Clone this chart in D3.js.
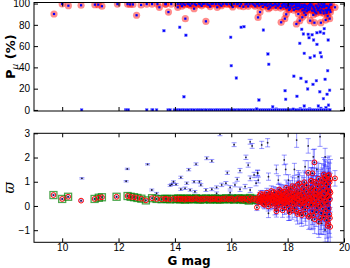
<!DOCTYPE html>
<html>
<head>
<meta charset="utf-8">
<script src="https://cdn.jsdelivr.net/npm/d3@7"></script>
<style>
  body { margin: 0; background: #fff; }
  svg { display: block; font-family: "DejaVu Sans", sans-serif; }
</style>
</head>
<body>
<svg width="350" height="268"></svg>
<script>
// ---- data ----
// top panel: membership probability (%) vs G
const topMembers = [
  [9.71, 90.2], [10.0, 99.6], [10.22, 98.0], [10.67, 98.4], [11.16, 99.0], [11.28, 99.0], [11.41, 97.5],
  [11.96, 99.5], [12.32, 99.5], [12.41, 99.2], [12.51, 99.2], [12.64, 89.0], [12.8, 98.7], [13.0, 99.5],
  [13.19, 99.5], [13.38, 99.5], [13.45, 96.5], [13.66, 99.5], [13.68, 99.5], [13.77, 92.0], [13.87, 99.5],
  [14.1, 99.5], [14.1, 96.5], [14.37, 85.8], [14.68, 95.2], [15.1, 83.3], [15.5, 96.5], [16.43, 97.0],
  [16.95, 87.0], [17.02, 92.0], [17.32, 95.2], [17.77, 82.4], [17.9, 85.8], [17.95, 89.9], [18.05, 94.0],
  [18.31, 80.8], [18.38, 90.2], [18.43, 83.9], [18.52, 87.1], [18.59, 91.4], [18.8, 83.9], [18.95, 82.0],
  [19.02, 90.8], [19.18, 82.0], [19.35, 84.5], [19.49, 85.8], [19.68, 96.5], [18.73, 94.0], [19.09, 94.0],
  [19.28, 90.8], [19.42, 88.3], [19.37, 93.3], [18.91, 89.3], [18.64, 89.3],
  [14.2, 99.6], [14.3, 99.8], [14.35, 98.9], [14.45, 99.7], [14.5, 99.2], [14.6, 99.9], [14.7, 99.5],
  [14.75, 98.6], [14.85, 99.8], [14.9, 99.3], [15.0, 99.7], [15.05, 99.9], [15.15, 99.4], [15.2, 98.8],
  [15.3, 99.7], [15.35, 99.9], [15.45, 99.5], [15.55, 99.8], [15.6, 99.1], [15.7, 99.6], [15.8, 99.9],
  [15.85, 99.3], [15.95, 99.7], [16.0, 98.7], [16.1, 99.8], [16.2, 99.4], [16.25, 99.9], [16.35, 99.6],
  [16.5, 99.2], [16.55, 99.8], [16.65, 99.5], [16.75, 99.9], [16.8, 98.9], [16.9, 99.6], [16.95, 99.8],
  [17.05, 99.3], [17.1, 99.7], [17.2, 98.5], [17.25, 99.9], [17.35, 99.1], [17.4, 99.6], [17.45, 98.2],
  [17.55, 99.8], [17.6, 99.0], [17.65, 97.9], [17.7, 99.5], [17.8, 98.7], [17.85, 99.7], [17.9, 97.4],
  [17.95, 99.2], [18.0, 98.4], [18.05, 99.6], [18.1, 97.1], [18.15, 98.9], [18.2, 99.5], [18.25, 96.8],
  [18.3, 98.2], [18.35, 99.3], [18.4, 97.6], [18.45, 95.9], [18.5, 98.8], [18.55, 96.7], [18.6, 99.1],
  [18.65, 97.9], [18.7, 95.4], [18.75, 98.5], [18.8, 96.3], [18.85, 99.0], [18.9, 97.2], [18.95, 94.8],
  [19.0, 98.1], [19.05, 96.0], [19.1, 99.2], [19.15, 97.5], [19.2, 94.3], [19.25, 98.4], [19.3, 96.6],
  [19.35, 93.9], [19.4, 97.8], [19.45, 95.5], [19.5, 98.9], [19.15, 92.8], [18.95, 93.1], [19.4, 92.5],
  [19.3, 99.5], [18.6, 94.2], [18.3, 95.1], [17.95, 96.1], [19.5, 94.0], [19.2, 99.7], [18.8, 99.6],
  [16.85, 97.5], [16.98, 98.2], [17.12, 96.9], [17.18, 99.2], [17.28, 97.8], [17.38, 96.4], [17.5, 98.6],
  [17.58, 96.2], [17.68, 98.9], [17.75, 95.8], [17.82, 97.1], [17.88, 99.6], [18.02, 96.7], [18.08, 95.1],
  [18.12, 99.8], [18.18, 96.2], [18.22, 93.9], [18.28, 99.7], [18.33, 97.4], [18.38, 94.7], [18.42, 99.4],
  [18.48, 96.9], [18.53, 93.6], [18.58, 98.3], [18.62, 95.8], [18.68, 92.9], [18.72, 97.2], [18.78, 94.6],
  [18.82, 98.1], [18.87, 93.4], [18.92, 96.1], [18.98, 91.9], [19.03, 97.4], [19.07, 93.7], [19.12, 95.9],
  [19.17, 91.4], [19.22, 96.8], [19.27, 93.2], [19.32, 97.9], [19.38, 91.2], [19.43, 94.1], [19.47, 96.9],
  [19.52, 92.1], [19.55, 99.1], [14.25, 97.6], [14.55, 98.1], [14.95, 97.9], [15.25, 97.2], [15.65, 98.0],
  [16.05, 96.8], [16.3, 97.7], [16.6, 97.4]
]
const topOthers = [
  [13.61, 74.5], [14.17, 77.7], [14.39, 70.2], [15.98, 68.3], [16.35, 77.7], [16.45, 78.3], [17.14, 75.1],
  [17.3, 52.6], [16.0, 41.6], [17.33, 42.9], [16.18, 30.0], [14.32, 12.4], [16.98, 9.3], [18.22, 31.7],
  [18.47, 29.7], [18.66, 26.5], [18.9, 24.0], [19.02, 27.5], [19.33, 28.8], [19.42, 36.9], [18.71, 19.7],
  [17.91, 18.1], [17.93, 10.0], [18.33, 12.8], [19.14, 17.1], [19.49, 18.5], [19.27, 10.6], [19.4, 14.7],
  [17.47, 3.0], [18.59, 3.7], [19.09, 3.7], [18.43, 62.6], [18.59, 53.2], [18.8, 49.1], [18.95, 50.7],
  [19.16, 53.8], [19.2, 50.0], [19.04, 61.6], [18.56, 71.4], [18.73, 71.1], [18.87, 70.7], [19.04, 72.6],
  [19.16, 73.3], [19.28, 72.0], [18.76, 67.9], [18.92, 65.7], [18.5, 75.8], [19.3, 76.4], [19.44, 65.7],
  [19.36, 2.2], [19.18, 1.5], [18.78, 1.0], [18.45, 1.2], [17.6, 0.8], [19.45, 4.5],
  [10.69, 0], [12.25, 0], [12.3, 0], [12.35, 0], [13.0, 0], [13.19, 0], [13.21, 0], [13.35, 0], [13.76, 0],
  [13.83, 0], [13.98, 0], [14.05, 0], [14.12, 0], [14.18, 0], [14.26, 0], [14.31, 0], [14.4, 0], [14.47, 0],
  [14.55, 0], [14.6, 0], [14.68, 0], [14.77, 0], [14.83, 0], [14.9, 0], [14.97, 0], [15.05, 0], [15.11, 0],
  [15.2, 0], [15.26, 0], [15.33, 0], [15.42, 0], [15.48, 0], [15.55, 0], [15.63, 0], [15.7, 0], [15.77, 0],
  [15.85, 0], [15.91, 0], [16.0, 0], [16.06, 0], [16.14, 0], [16.22, 0], [16.28, 0], [16.36, 0], [16.43, 0],
  [16.5, 0], [16.58, 0], [16.65, 0], [16.71, 0], [16.8, 0], [16.87, 0], [16.93, 0], [17.01, 0], [17.08, 0],
  [17.15, 0], [17.22, 0], [17.3, 0], [17.36, 0], [17.44, 0], [17.51, 0], [17.57, 0], [17.66, 0], [17.72, 0],
  [17.8, 0], [17.87, 0], [17.94, 0], [18.02, 0], [18.09, 0], [18.16, 0], [18.23, 0], [18.3, 0], [18.38, 0],
  [18.45, 0], [18.51, 0], [18.6, 0], [18.67, 0], [18.74, 0], [18.81, 0], [18.88, 0], [18.95, 0], [19.03, 0],
  [19.1, 0], [19.17, 0], [19.24, 0], [19.31, 0], [19.38, 0], [19.45, 0], [19.5, 0], [16.9, 0.9], [18.2, 0.7]
]

// bottom panel: parallax vs G, [G, parallax, error]
const plxBright = [
  [9.69, 0.45, 0.03], [10.0, 0.29, 0.03], [10.21, 0.38, 0.03], [11.15, 0.29, 0.03], [11.3, 0.34, 0.03],
  [11.41, 0.36, 0.03], [11.93, 0.38, 0.03], [12.32, 0.41, 0.03], [12.43, 0.38, 0.03], [12.55, 0.36, 0.03],
  [12.67, 0.33, 0.03], [12.81, 0.30, 0.03], [12.97, 0.23, 0.03], [13.19, 0.32, 0.04], [13.35, 0.29, 0.04],
  [13.53, 0.28, 0.04], [13.65, 0.30, 0.04], [13.71, 0.29, 0.04], [13.83, 0.27, 0.04], [13.95, 0.30, 0.04],
  [14.05, 0.28, 0.04], [14.12, 0.31, 0.04], [14.18, 0.27, 0.04], [14.22, 0.30, 0.04], [14.3, 0.29, 0.05],
  [14.35, 0.26, 0.05], [14.42, 0.31, 0.05], [14.48, 0.28, 0.05], [14.55, 0.30, 0.05], [14.6, 0.27, 0.05],
  [14.68, 0.29, 0.05], [14.75, 0.32, 0.05], [14.82, 0.28, 0.05], [14.89, 0.26, 0.06], [14.95, 0.30, 0.06],
  [15.02, 0.27, 0.06], [15.1, 0.31, 0.06], [15.19, 0.29, 0.06], [15.25, 0.26, 0.06], [15.3, 0.30, 0.06],
  [15.36, 0.28, 0.07], [15.42, 0.31, 0.07], [15.5, 0.27, 0.07], [15.55, 0.29, 0.07], [15.6, 0.26, 0.07],
  [15.68, 0.30, 0.07], [15.75, 0.28, 0.08], [15.82, 0.32, 0.08], [15.9, 0.27, 0.08], [15.96, 0.29, 0.08],
  [16.02, 0.31, 0.08], [16.1, 0.26, 0.09], [16.19, 0.29, 0.09], [16.25, 0.32, 0.09], [16.32, 0.27, 0.09],
  [16.38, 0.30, 0.1], [16.43, 0.25, 0.1], [16.5, 0.31, 0.1], [16.56, 0.28, 0.1], [16.62, 0.22, 0.11],
  [16.67, 0.33, 0.11], [16.73, 0.26, 0.11], [16.8, 0.30, 0.12], [16.88, 0.24, 0.12]
]
const plxFaint = [
  [10.67, 0.22, 0.03],
  [16.92, 0.30, 0.12], [16.97, 0.18, 0.13], [17.0, 0.42, 0.14], [17.03, 0.26, 0.13], [17.06, 0.35, 0.15],
  [17.1, 0.12, 0.15], [17.12, 0.48, 0.16], [17.15, 0.28, 0.15], [17.18, 0.05, 0.17], [17.2, 0.38, 0.16],
  [17.23, 0.22, 0.17], [17.26, 0.55, 0.18], [17.28, 0.31, 0.17], [17.31, -0.02, 0.19], [17.34, 0.44, 0.18],
  [17.36, 0.19, 0.19], [17.39, 0.36, 0.2], [17.42, 0.62, 0.21], [17.44, 0.27, 0.2], [17.47, 0.1, 0.21],
  [17.5, 0.41, 0.22], [17.52, 0.24, 0.22], [17.55, 0.52, 0.23], [17.57, 0.33, 0.22], [17.6, -0.1, 0.24],
  [17.62, 0.15, 0.23], [17.65, 0.45, 0.25], [17.67, 0.29, 0.24], [17.7, 0.68, 0.26], [17.72, 0.05, 0.26],
  [17.75, 0.38, 0.27], [17.77, 0.21, 0.26], [17.8, 0.55, 0.28], [17.82, -0.18, 0.29], [17.85, 0.31, 0.28],
  [17.87, 0.12, 0.29], [17.9, 0.47, 0.3], [17.92, 0.26, 0.3], [17.95, 0.75, 0.32], [17.97, 0.02, 0.32],
  [18.0, 0.36, 0.33], [18.02, 0.18, 0.33], [18.05, 0.58, 0.34], [18.07, -0.25, 0.35], [18.1, 0.3, 0.35],
  [18.12, 0.44, 0.36], [18.15, 0.09, 0.36], [18.17, 0.82, 0.38], [18.2, 0.25, 0.37], [18.22, 0.51, 0.38],
  [18.25, -0.08, 0.39], [18.27, 0.35, 0.39], [18.3, 0.16, 0.4], [18.32, 0.62, 0.41], [18.35, -0.33, 0.42],
  [18.37, 0.28, 0.41], [18.4, 0.45, 0.42], [18.42, 0.93, 0.44], [18.45, 0.07, 0.43], [18.47, 0.33, 0.44],
  [18.5, -0.38, 0.46], [18.52, 0.55, 0.45], [18.55, 0.2, 0.46], [18.57, 0.71, 0.47], [18.6, 0.38, 0.47],
  [18.62, -0.15, 0.48], [18.65, 0.27, 0.48], [18.67, 0.86, 0.5], [18.7, 0.12, 0.5], [18.72, 0.49, 0.5],
  [18.75, -0.45, 0.52], [18.77, 0.32, 0.51], [18.8, 0.64, 0.53], [18.82, 0.02, 0.53], [18.84, 1.04, 0.55],
  [18.86, 0.41, 0.54], [18.88, -0.22, 0.55], [18.9, 0.24, 0.55], [18.92, 0.77, 0.57], [18.94, 0.15, 0.57],
  [18.96, -0.55, 0.59], [18.98, 0.52, 0.58], [19.0, 0.33, 0.59], [19.02, 0.95, 0.61], [19.04, -0.08, 0.61],
  [19.06, 0.44, 0.62], [19.08, 0.19, 0.62], [19.1, 1.12, 0.64], [19.11, -0.65, 0.65], [19.13, 0.6, 0.64],
  [19.15, 0.28, 0.65], [19.17, 0.85, 0.66], [19.19, -0.3, 0.67], [19.21, 1.07, 0.68], [19.22, 0.38, 0.67],
  [19.24, 0.05, 0.68], [19.26, 0.72, 0.69], [19.28, -0.48, 0.7], [19.3, 0.5, 0.7], [19.31, 1.2, 0.72],
  [19.33, 0.22, 0.71], [19.34, 1.14, 0.72], [19.35, -0.2, 0.72], [19.37, 0.9, 0.73], [19.38, 0.35, 0.73],
  [19.39, -0.58, 0.75], [19.4, 0.65, 0.74], [19.42, 1.25, 0.76], [19.43, 0.12, 0.75], [19.44, -0.72, 0.77],
  [19.45, 0.8, 0.76], [19.46, 0.42, 0.76], [19.47, 1.28, 0.78], [19.48, -0.35, 0.78], [19.49, 0.98, 0.79],
  [19.5, 0.28, 0.79], [19.51, -0.86, 0.8], [19.52, 0.55, 0.8], [19.68, 1.14, 0.32], [18.95, 1.8, 0.55],
  [18.73, 1.37, 0.5], [18.88, 1.35, 0.52], [17.6, -0.22, 0.24], [16.91, -0.06, 0.13], [18.83, 1.04, 0.53],
  [17.08, 0.22, 0.14], [17.33, 0.3, 0.18], [17.58, 0.2, 0.23], [17.83, 0.4, 0.28], [18.08, 0.24, 0.35],
  [18.33, 0.3, 0.4], [18.58, 0.1, 0.47], [18.83, 0.3, 0.54], [19.09, 0.4, 0.63], [19.36, 0.6, 0.73],
  [17.01, 0.2, 0.14], [17.04, 0.5, 0.14], [17.11, 0.33, 0.15], [17.14, 0.08, 0.16], [17.19, 0.27, 0.16],
  [17.22, 0.45, 0.17], [17.27, 0.14, 0.17], [17.3, 0.38, 0.18], [17.35, 0.26, 0.18], [17.38, 0.5, 0.19],
  [17.41, 0.04, 0.2], [17.45, 0.34, 0.2], [17.48, 0.22, 0.21], [17.51, 0.58, 0.22], [17.54, 0.12, 0.22],
  [17.56, 0.4, 0.23], [17.61, 0.31, 0.23], [17.64, 0.02, 0.24], [17.66, 0.52, 0.24], [17.69, 0.18, 0.25],
  [17.71, 0.42, 0.26], [17.74, 0.27, 0.26], [17.76, 0.62, 0.27], [17.79, 0.09, 0.27], [17.81, 0.34, 0.28],
  [17.84, 0.19, 0.28], [17.86, 0.58, 0.29], [17.89, -0.06, 0.29], [17.91, 0.37, 0.3], [17.94, 0.14, 0.31],
  [17.96, 0.52, 0.31], [17.99, 0.25, 0.32], [18.01, 0.66, 0.33], [18.04, -0.12, 0.34], [18.06, 0.4, 0.34],
  [18.09, 0.13, 0.35], [18.11, 0.7, 0.35], [18.14, 0.33, 0.36], [18.16, -0.18, 0.37], [18.19, 0.48, 0.37],
  [18.21, 0.06, 0.38], [18.24, 0.78, 0.38], [18.26, 0.2, 0.39], [18.29, 0.53, 0.4], [18.31, -0.22, 0.4],
  [18.34, 0.4, 0.41], [18.36, 0.88, 0.42], [18.39, 0.1, 0.42], [18.41, 0.6, 0.43], [18.44, -0.28, 0.43],
  [18.46, 0.42, 0.44], [18.49, 0.18, 0.45], [18.51, 0.8, 0.45], [18.54, -0.05, 0.46], [18.56, 0.46, 0.46],
  [18.59, 0.98, 0.47], [18.61, 0.22, 0.48], [18.64, -0.32, 0.48], [18.66, 0.58, 0.49], [18.69, 0.36, 0.49],
  [18.71, -0.02, 0.5], [18.74, 0.74, 0.51], [18.76, 0.18, 0.51], [18.79, -0.4, 0.52], [18.81, 0.5, 0.53],
  [18.85, 0.08, 0.54], [18.87, 0.7, 0.54], [18.89, 0.36, 0.55], [18.91, -0.38, 0.56], [18.93, 1.0, 0.57],
  [18.97, 0.05, 0.58], [18.99, 0.66, 0.59], [19.01, -0.25, 0.6], [19.03, 0.5, 0.6], [19.05, 0.1, 0.61],
  [19.07, 0.82, 0.62], [19.12, 0.0, 0.63], [19.14, 0.46, 0.64], [19.16, -0.5, 0.65], [19.18, 0.68, 0.66],
  [19.2, 0.12, 0.66], [19.23, 0.9, 0.67], [19.25, -0.12, 0.68], [19.27, 0.32, 0.69], [19.29, 1.0, 0.7],
  [19.32, -0.35, 0.71], [19.36, 0.1, 0.72], [19.41, 0.4, 0.74], [19.44, 1.05, 0.76], [19.46, -0.1, 0.77],
  [19.49, 0.62, 0.78], [19.5, -0.5, 0.79], [19.52, 1.12, 0.8], [19.42, -0.82, 0.75], [19.28, 1.3, 0.7]
]
const plxOthers = [
  [10.7, 1.14, 0.03], [12.31, 1.53, 0.03], [12.27, 1.02, 0.03], [13.03, 1.72, 0.03], [13.18, 0.66, 0.04],
  [13.35, 0.52, 0.04], [13.83, 0.85, 0.04], [13.95, 1.0, 0.04], [13.89, 0.89, 0.04], [14.04, 0.89, 0.04],
  [14.21, 1.18, 0.05], [14.49, 1.5, 0.05], [14.75, 1.73, 0.05], [15.13, 1.97, 0.06], [15.31, 1.86, 0.06],
  [15.6, 2.97, 0.07], [15.86, 1.37, 0.07], [16.1, 2.53, 0.08], [16.21, 1.1, 0.08], [16.31, 1.46, 0.09],
  [16.52, 2.01, 0.09], [16.6, 1.69, 0.09], [16.67, 2.65, 0.1], [16.74, 2.48, 0.1], [14.42, 0.94, 0.05],
  [14.68, 1.0, 0.05], [14.87, 1.0, 0.05], [14.92, 0.87, 0.05], [14.21, 0.69, 0.05], [14.36, 0.73, 0.05],
  [14.54, 0.66, 0.05], [14.71, 0.59, 0.05], [15.1, 0.66, 0.06], [15.31, 0.69, 0.06], [15.48, 0.77, 0.06],
  [15.66, 0.87, 0.07], [15.81, 0.94, 0.07], [15.96, 0.77, 0.07], [16.13, 0.87, 0.08], [16.31, 0.69, 0.09],
  [16.49, 0.8, 0.09], [16.67, 0.66, 0.1], [16.88, 0.94, 0.11], [16.93, 1.37, 0.11], [16.81, 1.28, 0.11],
  [16.67, 1.14, 0.1], [15.48, 0.52, 0.06], [15.96, 0.55, 0.07],
  [17.08, 2.52, 0.15], [17.29, 2.61, 0.17], [18.32, 2.72, 0.3], [19.15, 2.86, 0.4], [18.73, 2.48, 0.3],
  [17.88, 1.9, 0.2], [17.6, 1.51, 0.18], [17.93, 1.51, 0.22], [18.24, 1.51, 0.25], [18.62, 1.62, 0.25],
  [18.91, 2.03, 0.3], [19.33, 2.03, 0.35], [16.94, 1.35, 0.12], [16.96, 1.07, 0.12], [17.32, 1.21, 0.15],
  [17.67, 1.07, 0.18], [18.03, 1.07, 0.22], [18.38, 1.21, 0.25], [19.04, 1.51, 0.3], [17.32, -0.3, 0.18],
  [17.55, -0.17, 0.2], [18.03, -0.3, 0.3], [18.5, -0.37, 0.35], [18.86, -0.58, 0.4], [19.21, -0.72, 0.45],
  [19.33, -0.99, 0.5], [19.09, -0.72, 0.45]
]

const xTicks = [10, 12, 14, 16, 18, 20]
const topTicks = [0, 20, 40, 60, 80, 100]
const botTicks = [-1, 0, 1, 2, 3]

// ---- layout ----
const [LEFT, RIGHT] = [34, 344]
const TOP_PANEL = [2.5, 111]
const BOT_PANEL = [133.3, 242.3]

const svg = d3.select("svg")
const x = d3.scaleLinear().domain([9, 20]).range([LEFT, RIGHT])
const yTop = d3.scaleLinear().domain([-1, 101]).range([TOP_PANEL[1], TOP_PANEL[0]])
const yBot = d3.scaleLinear().domain([-1.5, 3]).range([BOT_PANEL[1], BOT_PANEL[0]])

const defs = svg.append("defs")
const addClip = (id, panel) => defs.append("clipPath").attr("id", id)
  .append("rect").attr("x", LEFT).attr("y", panel[0]).attr("width", RIGHT - LEFT).attr("height", panel[1] - panel[0])
addClip("clipTop", TOP_PANEL)
addClip("clipBot", BOT_PANEL)

// ---- top panel marks ----
const gTop = svg.append("g").attr("clip-path", "url(#clipTop)")
gTop.selectAll("circle.mem").data(topMembers).enter().append("circle")
  .attr("cx", (d) => x(d[0])).attr("cy", (d) => yTop(d[1])).attr("r", 3.6)
  .attr("fill", "#ff0000").attr("fill-opacity", 0.45)
gTop.selectAll("rect.oth").data(topOthers).enter().append("rect")
  .attr("x", (d) => x(d[0]) - 1.3).attr("y", (d) => yTop(d[1]) - 1.3)
  .attr("width", 2.6).attr("height", 2.6)
  .attr("fill", "#0000ff").attr("stroke", "#8080ff").attr("stroke-width", 0.5)
gTop.selectAll("rect.memc").data(topMembers).enter().append("rect")
  .attr("x", (d) => x(d[0]) - 1.1).attr("y", (d) => yTop(d[1]) - 1.1)
  .attr("width", 2.2).attr("height", 2.2).attr("fill", "#0000ff")

// ---- bottom panel marks ----
const gBot = svg.append("g").attr("clip-path", "url(#clipBot)")
const allPlx = plxOthers.concat(plxBright, plxFaint)
const bars = gBot.append("g").attr("stroke", "#0000ff").attr("stroke-opacity", 0.4).attr("stroke-width", 1)
bars.selectAll("line.v").data(allPlx).enter().append("line")
  .attr("x1", (d) => x(d[0])).attr("x2", (d) => x(d[0]))
  .attr("y1", (d) => yBot(d[1] - d[2])).attr("y2", (d) => yBot(d[1] + d[2]))
bars.selectAll("line.lo").data(allPlx).enter().append("line")
  .attr("x1", (d) => x(d[0]) - 2.5).attr("x2", (d) => x(d[0]) + 2.5)
  .attr("y1", (d) => yBot(d[1] - d[2])).attr("y2", (d) => yBot(d[1] - d[2]))
bars.selectAll("line.hi").data(allPlx).enter().append("line")
  .attr("x1", (d) => x(d[0]) - 2.5).attr("x2", (d) => x(d[0]) + 2.5)
  .attr("y1", (d) => yBot(d[1] + d[2])).attr("y2", (d) => yBot(d[1] + d[2]))
gBot.selectAll("circle.c").data(allPlx).enter().append("circle")
  .attr("cx", (d) => x(d[0])).attr("cy", (d) => yBot(d[1])).attr("r", 0.9)
  .attr("fill", "#000000").attr("fill-opacity", 0.8)
gBot.selectAll("rect.sq").data(plxBright).enter().append("rect")
  .attr("x", (d) => x(d[0]) - 3.5).attr("y", (d) => yBot(d[1]) - 3.5)
  .attr("width", 7).attr("height", 7)
  .attr("fill", "none").attr("stroke", "#008000").attr("stroke-opacity", 0.7).attr("stroke-width", 1.3)
gBot.selectAll("circle.m").data(plxBright.concat(plxFaint)).enter().append("circle")
  .attr("cx", (d) => x(d[0])).attr("cy", (d) => yBot(d[1])).attr("r", 2.4)
  .attr("fill", "none").attr("stroke", "#ff0000").attr("stroke-width", 1)

// ---- axes (ticks inward, on all four sides) ----
const drawAxes = (y, panel, yVals, showX) => {
  const [y0, y1] = panel
  const styleAxis = (g) => {
    g.select(".domain").remove()
    g.selectAll("line").attr("stroke", "#000")
    g.selectAll("text").attr("font-size", 10).attr("fill", "#000")
  }
  svg.append("g").attr("transform", `translate(${LEFT},0)`)
    .call(d3.axisLeft(y).tickValues(yVals).tickSizeInner(-4).tickSizeOuter(0).tickPadding(4)
      .tickFormat(d3.format("d")))
    .call(styleAxis)
  svg.append("g").attr("transform", `translate(${RIGHT},0)`)
    .call(d3.axisRight(y).tickValues(yVals).tickSizeInner(-4).tickSizeOuter(0).tickFormat(""))
    .call(styleAxis)
  svg.append("g").attr("transform", `translate(0,${y1})`)
    .call(d3.axisBottom(x).tickValues(xTicks).tickSizeInner(-4).tickSizeOuter(0).tickPadding(2)
      .tickFormat(showX ? d3.format("d") : ""))
    .call(styleAxis)
  svg.append("g").attr("transform", `translate(0,${y0})`)
    .call(d3.axisTop(x).tickValues(xTicks).tickSizeInner(-4).tickSizeOuter(0).tickFormat(""))
    .call(styleAxis)
  svg.append("rect").attr("x", LEFT).attr("y", y0).attr("width", RIGHT - LEFT).attr("height", y1 - y0)
    .attr("fill", "none").attr("stroke", "#000").attr("stroke-width", 1)
}
drawAxes(yTop, TOP_PANEL, topTicks, false)
drawAxes(yBot, BOT_PANEL, botTicks, true)

// ---- labels ----
const pLabel = svg.append("text")
  .attr("transform", `translate(15,${(TOP_PANEL[0] + TOP_PANEL[1]) / 2}) rotate(-90)`)
  .attr("text-anchor", "middle").attr("font-size", 13).attr("font-weight", "bold")
pLabel.append("tspan").text("P")
pLabel.append("tspan").attr("font-style", "italic").attr("font-weight", "normal")
  .attr("font-size", 9).attr("dy", 3).text("μ")
pLabel.append("tspan").attr("dy", -3).text(" (%)")

svg.append("text")
  .attr("transform", `translate(14,${(BOT_PANEL[0] + BOT_PANEL[1]) / 2}) rotate(-90)`)
  .attr("text-anchor", "middle").attr("font-size", 14).attr("font-style", "italic")
  .attr("font-family", "DejaVu Serif, serif")
  .text("ϖ")

svg.append("text")
  .attr("x", (LEFT + RIGHT) / 2).attr("y", 265)
  .attr("text-anchor", "middle").attr("font-size", 12).attr("font-weight", "bold")
  .text("G mag")
</script>
</body>
</html>
